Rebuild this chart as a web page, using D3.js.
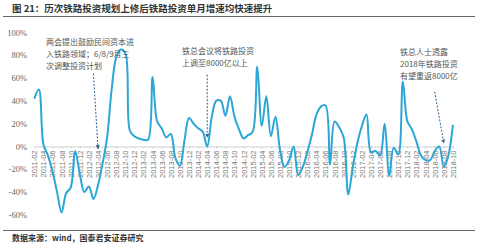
<!DOCTYPE html>
<html>
<head>
<meta charset="utf-8">
<script src="https://cdn.jsdelivr.net/npm/d3@7"></script>
<style>
  body { margin: 0; background: #fff; }
  svg { display: block; }
</style>
</head>
<body>
<div id="wrapper"></div>
<script>
// Monthly rail investment growth, 2011-02 .. 2018-10 (%)
const values = [
  42, 50, 2, -8, -22, -40, -58, -41, -36, -4,
  -24, -40, -35, -46, -34, -15, 8, 50, 78, 85,
  82, 14, 9, 7, 6, 6, 61, 22, 16, 8,
  11, -10, -17, 5, 25, 20, 16, 13, 0, 26,
  40, 40, 27, 44, 26, 15, 7, 10, 13, 70,
  18, 44, 9, 26, -3, -18, -12, 0, -25, -18,
  -5, 10, 28, 35, 36, -16, 22, 17, 8, -42,
  -18, 3, 18, 28, -5, -4, -8, 20, -26, -1,
  -7, 57, 22, 15, 4, -8, -12, -12, -4, 0,
  -18, -8, 19
];

const yTicks = [-60, -40, -20, 0, 20, 40, 60, 80, 100];

// month categories
const months = [];
for (let i = 0; i < values.length; i++) {
  const m = 1 + i; // 2011-02 is index 0
  const y = 2011 + Math.floor(m / 12);
  const mm = (m % 12) + 1;
  months.push(y + "-" + String(mm).padStart(2, "0"));
}

const notes = [
  {lines: ["两会提出鼓励民间资本进", "入铁路领域；6/8/9月三", "次调整投资计划"], tx: 46, ty: 45, from: ["2012-03", 64], to: ["2012-04", -2]},
  {lines: ["铁总会议将铁路投资", "上调至8000亿以上"], tx: 182, ty: 54, from: ["2014-04", 63], to: ["2014-04", 8]},
  {lines: ["铁总人士透露", "2018年铁路投资", "有望重返8000亿"], tx: 400, ty: 55, from: ["2018-06", 48], to: ["2018-08", 3]}
];

const W = 480, H = 248;

const svg = d3.select("#wrapper")
  .append("svg")
  .attr("width", W)
  .attr("height", H);

// Title
svg.append("text")
  .attr("x", 12).attr("y", 12)
  .style("font-family", "'Noto Sans CJK SC'")
  .style("font-weight", "bold")
  .style("font-size", "9.5px")
  .attr("fill", "#333")
  .text("图 21：历次铁路投资规划上修后铁路投资单月增速均快速提升");

svg.append("line")
  .attr("x1", 3).attr("x2", 475)
  .attr("y1", 16.5).attr("y2", 16.5)
  .attr("stroke", "#666").attr("stroke-width", 1);

svg.append("line")
  .attr("x1", 3).attr("x2", 475)
  .attr("y1", 230.5).attr("y2", 230.5)
  .attr("stroke", "#666").attr("stroke-width", 1);

svg.append("text")
  .attr("x", 12).attr("y", 241)
  .style("font-family", "'Noto Sans CJK SC'")
  .style("font-weight", "bold")
  .style("font-size", "8px")
  .attr("fill", "#333")
  .text("数据来源：wind，国泰君安证券研究");

// Scales
const x = d3.scalePoint().domain(months).range([34.3, 452.9]);
const y = d3.scaleLinear().domain([-60, 100]).range([214.9, 32.5]);

// Y axis labels
svg.append("g")
  .selectAll("text")
  .data(yTicks)
  .enter()
  .append("text")
    .attr("x", 27)
    .attr("y", d => y(d) + 3)
    .attr("text-anchor", "end")
    .style("font-family", "'Liberation Serif'")
    .style("font-size", "8.5px")
    .attr("fill", "#666")
    .text(d => d + "%");

// zero axis with ticks
const xAxis = d3.axisBottom(x)
  .tickValues(months.filter((d, i) => i % 2 == 0))
  .tickSize(2)
  .tickSizeOuter(0);

const gx = svg.append("g")
  .attr("transform", `translate(0,${y(0)})`)
  .call(xAxis);

gx.select(".domain").attr("stroke", "#d0d0d0");
gx.selectAll(".tick line").attr("stroke", "#d0d0d0");
gx.selectAll(".tick text")
  .attr("transform", "rotate(-90)")
  .attr("x", -4)
  .attr("y", 0)
  .attr("dy", "0.32em")
  .attr("text-anchor", "end")
  .style("font-family", "'Liberation Sans'")
  .style("font-size", "7.5px")
  .attr("fill", "#777");

// Series line
const line = d3.line()
  .x((d, i) => x(months[i]))
  .y(d => y(d))
  .curve(d3.curveCatmullRom.alpha(0.5));

svg.append("path")
  .datum(values)
  .attr("fill", "none")
  .attr("stroke", "#2ba6d6")
  .attr("stroke-width", 2)
  .attr("d", line);

// Arrow marker
svg.append("defs").append("marker")
  .attr("id", "arrow")
  .attr("viewBox", "0 0 10 10")
  .attr("refX", 9).attr("refY", 5)
  .attr("markerWidth", 4).attr("markerHeight", 4)
  .attr("orient", "auto")
  .append("path")
    .attr("d", "M0,0 L10,5 L0,10 z")
    .attr("fill", "#2f5f8a");

// Annotations
notes.forEach(n => {
  svg.append("line")
    .attr("x1", x(n.from[0])).attr("y1", y(n.from[1]))
    .attr("x2", x(n.to[0])).attr("y2", y(n.to[1]))
    .attr("stroke", "#2f5f8a")
    .attr("stroke-width", 1)
    .attr("stroke-dasharray", "2,1.5")
    .attr("marker-end", "url(#arrow)");

  const t = svg.append("text")
    .style("font-family", "'Noto Sans CJK SC'")
    .style("font-size", "8px")
    .attr("fill", "#555");
  n.lines.forEach((l, i) => {
    t.append("tspan")
      .attr("x", n.tx)
      .attr("y", n.ty + i * 12)
      .text(l);
  });
});
</script>
</body>
</html>
